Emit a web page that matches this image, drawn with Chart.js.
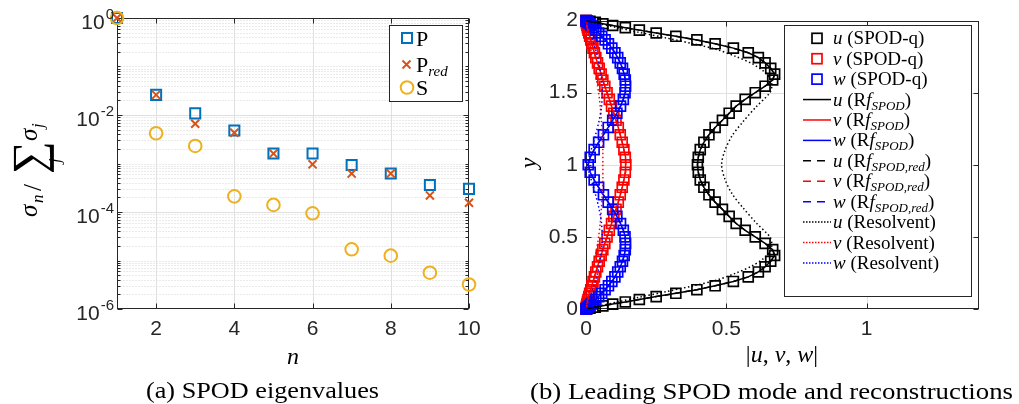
<!DOCTYPE html>
<html><head><meta charset="utf-8">
<script src="https://cdn.jsdelivr.net/npm/chart.js@4.4.1/dist/chart.umd.min.js"></script>
<style>
html,body{margin:0;padding:0;background:#fff;}
#wrap{position:relative;width:1019px;height:404px;overflow:hidden;background:#fff;}
canvas{position:absolute;top:0;}
#ov{position:absolute;left:0;top:0;pointer-events:none;}
</style></head><body>
<div id="wrap">
<canvas id="ca" width="500" height="345" style="left:0px"></canvas>
<canvas id="cb" width="499" height="345" style="left:520px"></canvas>
<svg id="ov" width="1019" height="404" xmlns="http://www.w3.org/2000/svg" font-family="'Liberation Serif','Times New Roman',serif">
  <!-- left legend -->
  <rect x="389.5" y="25.5" width="73" height="76" fill="#fff" stroke="#262626" stroke-width="1"/>
  <rect x="402" y="33" width="10" height="10" fill="none" stroke="#0072BD" stroke-width="2"/>
  <path d="M402.5 60.5 L410.5 68.5 M410.5 60.5 L402.5 68.5" stroke="#D95319" stroke-width="2" fill="none"/>
  <circle cx="407" cy="87.5" r="6.3" fill="none" stroke="#EDB120" stroke-width="2"/>
  <text x="416" y="46" font-size="22" fill="#000">P</text>
  <text x="416" y="72" font-size="22" fill="#000">P<tspan font-size="15" font-style="italic" dy="4">red</tspan></text>
  <text x="416" y="95" font-size="22" fill="#000">S</text>
  <!-- right legend box -->
  <rect x="784.5" y="25.5" width="187" height="271" fill="#fff" stroke="#262626" stroke-width="1"/>
  <g id="legB"></g>
  <!-- axis titles -->
  <text x="293" y="364" text-anchor="middle" font-size="24" font-style="italic" fill="#000">n</text>
  <text font-size="25" fill="#000" transform="translate(8,217) rotate(-90)"><tspan x="0" y="29" font-style="italic">σ</tspan><tspan x="14" y="35" font-size="17" font-style="italic">n</tspan><tspan x="26" y="33">/</tspan><tspan x="43" y="36" font-size="46">∑</tspan><tspan x="54" y="52" font-size="17" font-style="italic">j</tspan><tspan x="76" y="29" font-style="italic">σ</tspan><tspan x="89" y="35" font-size="17" font-style="italic">j</tspan></text>
  <text x="782" y="362" text-anchor="middle" font-size="24" fill="#000">|<tspan font-style="italic">u</tspan>, <tspan font-style="italic">v</tspan>, <tspan font-style="italic">w</tspan>|</text>
  <text transform="translate(536,163) rotate(-90)" text-anchor="middle" font-size="24" font-style="italic" fill="#000">y</text>
  <!-- captions -->
  <text x="262.5" y="398" text-anchor="middle" font-size="24" fill="#000" textLength="233" lengthAdjust="spacingAndGlyphs">(a) SPOD eigenvalues</text>
  <text x="771.5" y="399" text-anchor="middle" font-size="24" fill="#000" textLength="483" lengthAdjust="spacingAndGlyphs">(b) Leading SPOD mode and reconstructions</text>
</svg>
</div>
<script>
// ---------- (a) SPOD eigenvalues ----------
const nVals    = [1, 2, 3, 4, 5, 6, 7, 8, 9, 10];
const pVals    = [1, 0.026, 0.0108, 0.0048, 0.0016, 0.0016, 0.00093, 0.00062, 0.00036, 0.0003];
const pRedVals = [1, 0.026, 0.0066, 0.0043, 0.0016, 0.00096, 0.00062, 0.00062, 0.00022, 0.000155];
const sVals    = [1, 0.0042, 0.0023, 0.00021, 0.00014, 0.000094, 0.000017, 0.0000126, 0.0000056, 0.0000032];
const xTicksA  = [2, 4, 6, 8, 10];
const yTicksA  = [1e-6, 1e-4, 1e-2, 1];
const yExpA    = ['-6', '-4', '-2', '0'];

// ---------- (b) leading SPOD mode ----------
const yGrid = [0,0.001,0.005,0.012,0.022,0.034,0.049,0.066,0.086,0.109,0.134,0.161,0.191,0.223,0.257,0.293,0.331,0.371,0.412,0.455,0.5,0.546,0.593,0.642,0.691,0.741,0.792,0.844,0.895,0.948,1,1.052,1.105,1.156,1.208,1.259,1.309,1.358,1.407,1.454,1.5,1.545,1.588,1.629,1.669,1.707,1.743,1.777,1.809,1.839,1.866,1.891,1.914,1.934,1.951,1.966,1.978,1.988,1.995,1.999,2];
const uSpod = [0,0.003,0.014,0.033,0.06,0.095,0.14,0.19,0.25,0.32,0.395,0.46,0.525,0.578,0.614,0.638,0.658,0.672,0.665,0.638,0.603,0.567,0.535,0.51,0.486,0.46,0.438,0.42,0.407,0.4,0.397,0.4,0.407,0.42,0.438,0.46,0.486,0.51,0.535,0.567,0.603,0.638,0.665,0.672,0.658,0.638,0.614,0.578,0.525,0.46,0.395,0.32,0.25,0.19,0.14,0.095,0.06,0.033,0.014,0.003,0];
const vSpod = [0,0,0.001,0.001,0.002,0.003,0.005,0.007,0.01,0.013,0.017,0.021,0.025,0.03,0.035,0.041,0.047,0.054,0.06,0.067,0.075,0.083,0.091,0.099,0.107,0.115,0.122,0.129,0.135,0.14,0.142,0.14,0.135,0.129,0.122,0.115,0.107,0.099,0.091,0.083,0.075,0.067,0.06,0.054,0.047,0.041,0.035,0.03,0.025,0.021,0.017,0.013,0.01,0.007,0.005,0.003,0.002,0.001,0.001,0,0];
const wSpod = [0,0.001,0.003,0.007,0.012,0.018,0.026,0.035,0.045,0.056,0.068,0.08,0.092,0.103,0.113,0.122,0.13,0.136,0.14,0.141,0.139,0.133,0.123,0.11,0.095,0.079,0.062,0.045,0.029,0.015,0.008,0.015,0.029,0.045,0.062,0.079,0.095,0.11,0.123,0.133,0.139,0.141,0.14,0.136,0.13,0.122,0.113,0.103,0.092,0.08,0.068,0.056,0.045,0.035,0.026,0.018,0.012,0.007,0.003,0.001,0];
const yRes = [0,0.02,0.05,0.08,0.12,0.16,0.2,0.25,0.3,0.35,0.4,0.45,0.5,0.6,0.7,0.8,0.9,1,1.1,1.2,1.3,1.4,1.5,1.55,1.6,1.65,1.7,1.75,1.8,1.84,1.88,1.92,1.95,1.98,2];
const uRes = [0,0.045,0.115,0.185,0.285,0.38,0.465,0.535,0.593,0.632,0.656,0.662,0.655,0.605,0.56,0.52,0.495,0.483,0.495,0.52,0.56,0.605,0.655,0.662,0.656,0.632,0.593,0.535,0.465,0.38,0.285,0.185,0.115,0.045,0];
const vRes = [0,0.002,0.004,0.007,0.01,0.013,0.017,0.021,0.026,0.031,0.036,0.041,0.045,0.051,0.055,0.058,0.06,0.06,0.06,0.058,0.055,0.051,0.045,0.041,0.036,0.031,0.026,0.021,0.017,0.013,0.01,0.007,0.004,0.002,0];
const wRes = [0,0.003,0.009,0.014,0.021,0.028,0.034,0.041,0.047,0.051,0.055,0.057,0.058,0.055,0.046,0.033,0.018,0.006,0.018,0.033,0.046,0.055,0.058,0.057,0.055,0.051,0.047,0.041,0.034,0.028,0.021,0.014,0.009,0.003,0];
const xTicksB  = [0, 0.5, 1];
const xLabelsB = ['0', '0.5', '1'];
const yTicksB  = [0, 0.5, 1, 1.5, 2];
const yLabelsB = ['0', '0.5', '1', '1.5', '2'];

// ---------- legend (b) ----------
const lgVars = ['u', 'v', 'w'];
const lgCols = ['#000000', '#ff0000', '#0000ff'];
const lgKinds = ['sq', 'solid', 'dash', 'dot'];
(function(){
  const sub = s => `(R<tspan font-style="italic">f</tspan><tspan font-style="italic" font-size="13" dy="4">${s}</tspan><tspan dy="-4">)</tspan>`;
  const suffix = {sq: '(SPOD-q)', solid: sub('SPOD'), dash: sub('SPOD,red'), dot: '(Resolvent)'};
  let h = '';
  lgKinds.forEach((k, ki) => lgVars.forEach((vn, vi) => {
    const i = ki * 3 + vi, cy = 38.3 + 20.42 * i, col = lgCols[vi];
    if (k === 'sq') h += `<rect x="812" y="${cy-5}" width="10" height="10" fill="none" stroke="${col}" stroke-width="1.7"/>`;
    else h += `<line x1="803" x2="831" y1="${cy}" y2="${cy}" stroke="${col}" stroke-width="1.5" ${k==='dash'?'stroke-dasharray="8 6"':(k==='dot'?'stroke-dasharray="1.5 1.5"':'')}/>`;
    h += `<text x="833" y="${(cy+6).toFixed(1)}" font-size="19" fill="#000"><tspan font-style="italic">${vn}</tspan> ${suffix[k]}</text>`;
  }));
  document.getElementById('legB').innerHTML = h;
})();

// ---------- frame plugin (MATLAB-like box, grid, inward ticks) ----------
const AX = '#262626';
const frame = {
  id: 'frame',
  beforeDatasetsDraw(chart, args, o) {
    const {ctx, chartArea: a, scales: {x, y}} = chart;
    const L = Math.round(a.left) + 0.5, R = Math.round(a.right) - 0.5;
    const T = Math.round(a.top) + 0.5, B = Math.round(a.bottom) - 0.5;
    const seg = (x1, y1, x2, y2) => { ctx.beginPath(); ctx.moveTo(x1, y1); ctx.lineTo(x2, y2); ctx.stroke(); };
    ctx.save();
    ctx.lineWidth = 1;
    if (o.yMinor) {
      ctx.strokeStyle = '#d4d4d4'; ctx.setLineDash([1, 2]);
      o.yMinor.forEach(v => { const p = Math.round(y.getPixelForValue(v)) + 0.5; seg(L, p, R, p); });
      ctx.setLineDash([]);
    }
    ctx.strokeStyle = '#e0e0e0';
    (o.xGrid || []).forEach(v => { const p = Math.round(x.getPixelForValue(v)) + 0.5; seg(p, T, p, B); });
    (o.yGrid || []).forEach(v => { const p = Math.round(y.getPixelForValue(v)) + 0.5; seg(L, p, R, p); });
    ctx.strokeStyle = AX;
    ctx.strokeRect(L, T, R - L, B - T);
    (o.xTicks || []).forEach(v => { const p = Math.round(x.getPixelForValue(v)) + 0.5; seg(p, B, p, B - 5); seg(p, T, p, T + 5); });
    (o.yTicks || []).forEach(v => { const p = Math.round(y.getPixelForValue(v)) + 0.5; seg(L, p, L + 5, p); seg(R, p, R - 5, p); });
    (o.yMinor || []).forEach(v => { const p = Math.round(y.getPixelForValue(v)) + 0.5; seg(L, p, L + 3, p); seg(R, p, R - 3, p); });
    ctx.restore();
  },
  afterDraw(chart, args, o) {
    if (!o.expLabels) return;
    const {ctx, scales: {y}} = chart;
    ctx.save();
    ctx.fillStyle = AX; ctx.textAlign = 'left'; ctx.textBaseline = 'alphabetic';
    const fb = '21px "Liberation Sans", Arial, sans-serif', fe = '15px "Liberation Sans", Arial, sans-serif';
    o.expLabels.values.forEach((v, i) => {
      const py = y.getPixelForValue(v);
      ctx.font = fb; const bw = ctx.measureText('10').width;
      ctx.font = fe; const ew = ctx.measureText(o.expLabels.exps[i]).width;
      const x0 = o.expLabels.right - bw - ew - 1;
      ctx.font = fb; ctx.fillText('10', x0, py + 11);
      ctx.font = fe; ctx.fillText(o.expLabels.exps[i], x0 + bw + 1, py + 1);
    });
    ctx.restore();
  }
};

const tickFont = {family: '"Liberation Sans", Arial, sans-serif', size: 21};
const common = {
  responsive: false, animation: false, devicePixelRatio: 1, events: [],
  plugins: {legend: {display: false}, tooltip: {enabled: false}}
};

// minor log values (axis decoration only)
const yMinorA = [];
for (let e = -6; e <= 0; e++) for (let m = 1; m <= 9; m++) {
  const v = m * Math.pow(10, e);
  if (v > 1.0000001) continue;
  if (m === 1 && e % 2 === 0) continue;
  yMinorA.push(v);
}

// pairs: x values from xs, y values from ys
const pts = (xs, ys) => xs.map((v, i) => ({x: v, y: ys[i]}));

new Chart(document.getElementById('ca'), {
  type: 'scatter',
  data: {datasets: [
    {label: 'S', data: pts(nVals, sVals), pointStyle: 'circle', pointRadius: 6.3, borderColor: '#EDB120', backgroundColor: 'rgba(0,0,0,0)', borderWidth: 2, clip: false, order: 1},
    {label: 'P_red', data: pts(nVals, pRedVals), pointStyle: 'crossRot', pointRadius: 5.7, borderColor: '#D95319', backgroundColor: 'rgba(0,0,0,0)', borderWidth: 2, clip: false, order: 2},
    {label: 'P', data: pts(nVals, pVals), pointStyle: 'rect', pointRadius: 7.1, borderColor: '#0072BD', backgroundColor: 'rgba(0,0,0,0)', borderWidth: 2, clip: false, order: 3}
  ]},
  options: Object.assign({}, common, {
    layout: {padding: {left: 0, right: 31, top: 18, bottom: 0}},
    scales: {
      x: {type: 'linear', min: 1, max: 10,
          afterBuildTicks: s => { s.ticks = xTicksA.map(v => ({value: v})); },
          afterFit: s => { s.height = 36; },
          grid: {display: false, drawTicks: false}, border: {display: false},
          ticks: {font: tickFont, color: AX, padding: 8, maxRotation: 0, autoSkip: false}},
      y: {type: 'logarithmic', min: 1e-6, max: 1,
          afterFit: s => { s.width = 117; },
          grid: {display: false, drawTicks: false}, border: {display: false},
          ticks: {display: false}}
    },
    plugins: Object.assign({}, common.plugins, {
      frame: {xGrid: [2, 4, 6, 8], yGrid: [1e-4, 1e-2], yMinor: yMinorA, xTicks: xTicksA, yTicks: yTicksA,
              expLabels: {values: yTicksA, exps: yExpA, right: 114}}
    })
  }),
  plugins: [frame]
});

// profile datasets: horizontal = velocity magnitude, vertical = y
const sq = (col, ord, mag, ys) => ({data: pts(mag, ys), showLine: false, pointStyle: 'rect', pointRadius: 7, borderColor: col, backgroundColor: 'rgba(0,0,0,0)', borderWidth: 1.7, clip: false, order: ord});
const ln = (col, ord, mag, ys, dash, tension) => ({data: pts(mag, ys), showLine: true, pointRadius: 0, borderColor: col, borderWidth: 1.5, borderDash: dash, tension: tension, fill: false, order: ord});

new Chart(document.getElementById('cb'), {
  type: 'scatter',
  data: {datasets: [
    Object.assign(sq('#000000', 12, uSpod, yGrid), {label: 'u (SPOD-q)'}),
    Object.assign(sq('#ff0000', 11, vSpod, yGrid), {label: 'v (SPOD-q)'}),
    Object.assign(sq('#0000ff', 10, wSpod, yGrid), {label: 'w (SPOD-q)'}),
    Object.assign(ln('#000000', 9, uSpod, yGrid, [], 0), {label: 'u (Rf_SPOD)'}),
    Object.assign(ln('#ff0000', 8, vSpod, yGrid, [], 0), {label: 'v (Rf_SPOD)'}),
    Object.assign(ln('#0000ff', 7, wSpod, yGrid, [], 0), {label: 'w (Rf_SPOD)'}),
    Object.assign(ln('#000000', 6, uSpod, yGrid, [6, 4], 0), {label: 'u (Rf_SPOD,red)'}),
    Object.assign(ln('#ff0000', 5, vSpod, yGrid, [6, 4], 0), {label: 'v (Rf_SPOD,red)'}),
    Object.assign(ln('#0000ff', 4, wSpod, yGrid, [6, 4], 0), {label: 'w (Rf_SPOD,red)'}),
    Object.assign(ln('#000000', 3, uRes, yRes, [1.5, 2.5], 0.3), {label: 'u (Resolvent)'}),
    Object.assign(ln('#ff0000', 2, vRes, yRes, [1.5, 2.5], 0.3), {label: 'v (Resolvent)'}),
    Object.assign(ln('#0000ff', 1, wRes, yRes, [1.5, 2.5], 0.3), {label: 'w (Resolvent)'})
  ]},
  options: Object.assign({}, common, {
    layout: {padding: {left: 0, right: 40, top: 18, bottom: 0}},
    scales: {
      x: {type: 'linear', min: 0, max: 1.4,
          afterBuildTicks: s => { s.ticks = xTicksB.map(v => ({value: v})); },
          afterFit: s => { s.height = 36; },
          grid: {display: false, drawTicks: false}, border: {display: false},
          ticks: {font: tickFont, color: AX, padding: 8, maxRotation: 0, autoSkip: false,
                  callback: (v, i) => xLabelsB[i]}},
      y: {type: 'linear', min: 0, max: 2,
          afterBuildTicks: s => { s.ticks = yTicksB.map(v => ({value: v})); },
          afterFit: s => { s.width = 66; },
          grid: {display: false, drawTicks: false}, border: {display: false},
          ticks: {font: tickFont, color: AX, padding: 8, autoSkip: false,
                  callback: (v, i) => yLabelsB[i]}}
    },
    plugins: Object.assign({}, common.plugins, {
      frame: {xGrid: [0.5, 1], yGrid: [0.5, 1, 1.5], xTicks: xTicksB, yTicks: yTicksB}
    })
  }),
  plugins: [frame]
});
</script>
</body></html>
